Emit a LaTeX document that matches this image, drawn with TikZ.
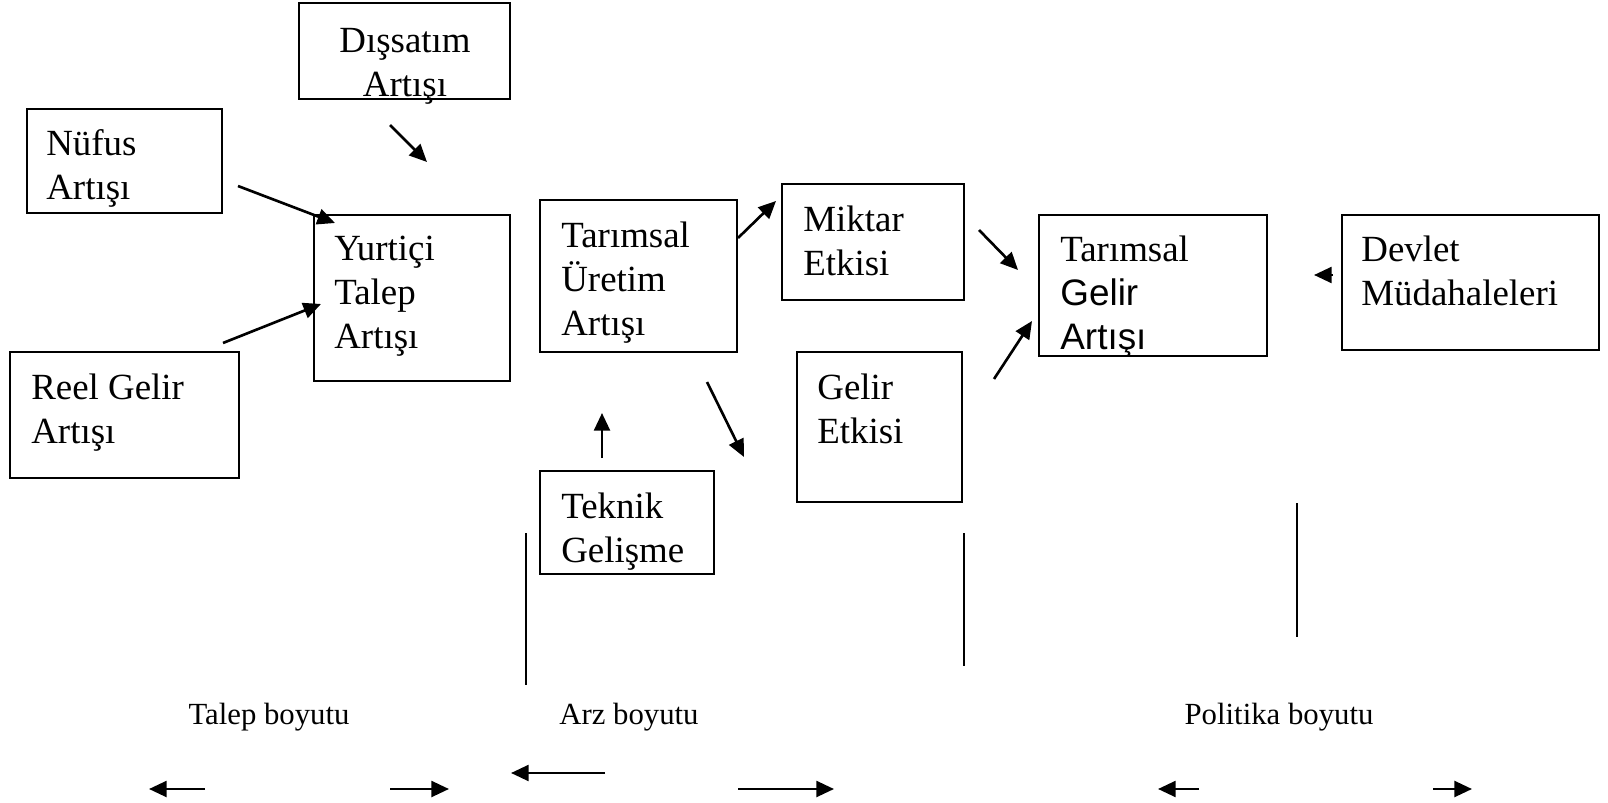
\documentclass[tikz,border=0pt]{standalone}
\usepackage{fontspec}
\setmainfont{Liberation Serif}
\newfontfamily\arialfont{Liberation Sans}
\usepackage{tikz}
\usetikzlibrary{arrows.meta, positioning, fit}
\tikzstyle{kutu} = [draw, line width=1.1pt, inner sep=0pt]
\tikzstyle{yazi} = [anchor=north west, align=left, inner sep=0pt, font=\fontsize{21}{25}\selectfont]
\tikzstyle{boyut} = [anchor=base, inner sep=0pt, font=\fontsize{17.5}{21}\selectfont]
\tikzstyle{ok} = [draw, line width=1.5pt, -{Triangle[length=10pt,width=9pt]}]
\tikzstyle{line} = [draw, line width=1.1pt]

\begin{document}
\begin{tikzpicture}[x=0.02cm, y=-0.02cm]
			\useasboundingbox (0,0) rectangle (1608,803);

			\node [kutu, fit={(299,3) (510,99)}] (dis) {};
			\node [kutu, fit={(27,109) (222,213)}] (nufus) {};
			\node [kutu, fit={(314,215) (510,381)}] (yurtici) {};
			\node [kutu, fit={(10,352) (239,478)}] (reel) {};
			\node [kutu, fit={(540,200) (737,352)}] (uretim) {};
			\node [kutu, fit={(782,184) (964,300)}] (miktar) {};
			\node [kutu, fit={(797,352) (962,502)}] (gelir) {};
			\node [kutu, fit={(540,471) (714,574)}] (teknik) {};
			\node [kutu, fit={(1039,215) (1267,356)}] (tg) {};
			\node [kutu, fit={(1342,215) (1599,350)}] (devlet) {};

			\node [yazi, anchor=north, align=center] (dis-t) at (405,28) {Dışsatım\\Artışı};
			\node [yazi] (nufus-t) at (46,129) {Nüfus\\Artışı};
			\node [yazi] (yurtici-t) at (334,236) {Yurtiçi\\Talep\\Artışı};
			\node [yazi] (reel-t) at (31,374) {Reel Gelir\\Artışı};
			\node [yazi] (uretim-t) at (561,222) {Tarımsal\\Üretim\\Artışı};
			\node [yazi] (miktar-t) at (803,206) {Miktar\\Etkisi};
			\node [yazi] (gelir-t) at (817,374) {Gelir\\Etkisi};
			\node [yazi] (teknik-t) at (561,493) {Teknik\\Gelişme};
			\node [yazi] (tg-t) at (1060,236) {Tarımsal\\{\arialfont Gelir}\\{\arialfont Artışı}};
			\node [yazi] (devlet-t) at (1361,236) {Devlet\\Müdahaleleri};

			\node [boyut] (talep) at (269,724) {Talep boyutu};
			\node [boyut] (arz) at (629,724) {Arz boyutu};
			\node [boyut] (politika) at (1279,724) {Politika boyutu};

			\coordinate (dis-a) at (390,125);
			\coordinate (dis-b) at (427,162);
			\coordinate (nufus-a) at (238,186);
			\coordinate (nufus-b) at (335,223);
			\coordinate (reel-a) at (223,343);
			\coordinate (reel-b) at (321,304);
			\coordinate (uretim-a) at (738,238);
			\coordinate (uretim-b) at (776,201);
			\coordinate (uretim-c) at (707,382);
			\coordinate (uretim-d) at (744,457);
			\coordinate (teknik-a) at (602,458);
			\coordinate (teknik-b) at (602,413);
			\coordinate (miktar-a) at (979,230);
			\coordinate (miktar-b) at (1018,270);
			\coordinate (gelir-a) at (994,379);
			\coordinate (gelir-b) at (1032,321);
			\coordinate (devlet-a) at (1333,275);
			\coordinate (devlet-b) at (1314,275);

			\coordinate (ayrac1-a) at (526,533);
			\coordinate (ayrac1-b) at (526,685);
			\coordinate (ayrac2-a) at (964,533);
			\coordinate (ayrac2-b) at (964,666);
			\coordinate (ayrac3-a) at (1297,503);
			\coordinate (ayrac3-b) at (1297,637);

			\coordinate (talep-a) at (205,789);
			\coordinate (talep-b) at (149,789);
			\coordinate (talep-c) at (390,789);
			\coordinate (talep-d) at (449,789);
			\coordinate (arz-a) at (605,773);
			\coordinate (arz-b) at (511,773);
			\coordinate (arz-c) at (738,789);
			\coordinate (arz-d) at (834,789);
			\coordinate (politika-a) at (1199,789);
			\coordinate (politika-b) at (1158,789);
			\coordinate (politika-c) at (1433,789);
			\coordinate (politika-d) at (1472,789);

			\path [ok] (dis-a) -- (dis-b);
			\path [ok] (nufus-a) -- (nufus-b);
			\path [ok] (reel-a) -- (reel-b);
			\path [ok] (uretim-a) -- (uretim-b);
			\path [ok] (uretim-c) -- (uretim-d);
			\path [ok] (teknik-a) -- (teknik-b);
			\path [ok] (miktar-a) -- (miktar-b);
			\path [ok] (gelir-a) -- (gelir-b);
			\path [ok] (devlet-a) -- (devlet-b);

			\path [line] (ayrac1-a) -- (ayrac1-b);
			\path [line] (ayrac2-a) -- (ayrac2-b);
			\path [line] (ayrac3-a) -- (ayrac3-b);

			\path [ok] (talep-a) -- (talep-b);
			\path [ok] (talep-c) -- (talep-d);
			\path [ok] (arz-a) -- (arz-b);
			\path [ok] (arz-c) -- (arz-d);
			\path [ok] (politika-a) -- (politika-b);
			\path [ok] (politika-c) -- (politika-d);
		\end{tikzpicture}
\end{document}
